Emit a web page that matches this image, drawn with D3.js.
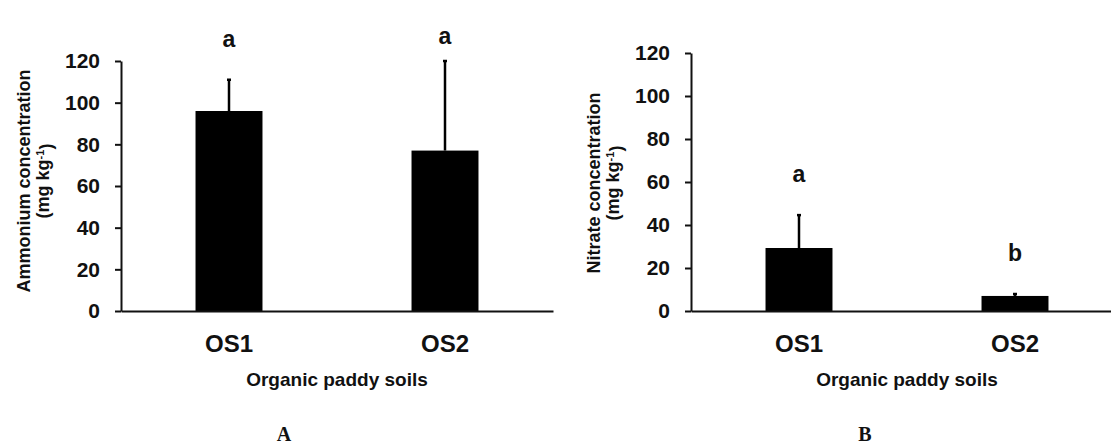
<!DOCTYPE html>
<html>
<head>
<meta charset="utf-8">
<script src="https://cdn.jsdelivr.net/npm/d3@7"></script>
<style>
  body { margin: 0; background: #fff; }
  svg { display: block; }
  text { font-family: "Liberation Sans", Arial, sans-serif; font-weight: bold; fill: #111; }
</style>
</head>
<body>
<svg id="drawspace" width="1111" height="445"></svg>
<script>
// data
const soils = ["OS1", "OS2"];
const ammonium = [96, 77];
const ammoniumErr = [15, 43];
const ammoniumLetters = ["a", "a"];
const nitrate = [29.3, 7];
const nitrateErr = [15.3, 0.9];
const nitrateLetters = ["a", "b"];
const yTicks = [0, 20, 40, 60, 80, 100, 120];

let drawSpace = d3.select("#drawspace");

// one panel = one bar chart with upward error bars
function drawPanel(p) {
  let g = drawSpace.append("g");

  let x = d3.scaleBand().domain(soils).range([p.left, p.left + 432])
    .paddingInner(0.69).paddingOuter(0.345);
  let y = d3.scaleLinear().domain([0, 120]).range([311, p.top]);

  // y axis
  let yAxis = g.append("g")
    .attr("transform", `translate(${p.left},0)`)
    .call(d3.axisLeft(y).tickValues(yTicks).tickSize(6).tickSizeOuter(0).tickPadding(15));
  yAxis.selectAll("path, line").attr("stroke", "#111").attr("stroke-width", 2);
  yAxis.selectAll("text").style("font-size", "21px").attr("fill", "#111");

  // bars
  g.selectAll(".bar")
    .data(p.values)
    .enter()
    .append("rect")
    .attr("class", "bar")
    .attr("x", (d, i) => x(soils[i]))
    .attr("width", x.bandwidth())
    .attr("y", (d) => y(d))
    .attr("height", (d) => y(0) - y(d))
    .attr("fill", "#000");

  // error bars (upper whisker only)
  let cx = (i) => x(soils[i]) + x.bandwidth() / 2;
  g.selectAll(".err")
    .data(p.values)
    .enter()
    .append("line")
    .attr("x1", (d, i) => cx(i))
    .attr("x2", (d, i) => cx(i))
    .attr("y1", (d) => y(d))
    .attr("y2", (d, i) => y(d + p.errs[i]))
    .attr("stroke", "#000")
    .attr("stroke-width", 2.5);
  g.selectAll(".cap")
    .data(p.values)
    .enter()
    .append("line")
    .attr("x1", (d, i) => cx(i) - 2)
    .attr("x2", (d, i) => cx(i) + 2)
    .attr("y1", (d, i) => y(d + p.errs[i]))
    .attr("y2", (d, i) => y(d + p.errs[i]))
    .attr("stroke", "#000")
    .attr("stroke-width", 2.5);

  // significance letters, kept below the top of the frame
  g.selectAll(".letter")
    .data(p.letters)
    .enter()
    .append("text")
    .attr("x", (d, i) => cx(i))
    .attr("y", (d, i) => Math.max(y(p.values[i] + p.errs[i]) - 33, 44))
    .attr("text-anchor", "middle")
    .style("font-size", "23px")
    .text((d) => d);

  // x axis
  let xAxis = g.append("g")
    .attr("transform", `translate(0,${y(0)})`)
    .call(d3.axisBottom(x).tickSize(0).tickPadding(24));
  xAxis.select("path").attr("stroke", "#111").attr("stroke-width", 2);
  xAxis.selectAll("text").style("font-size", "24px").attr("fill", "#111");

  // x title
  g.append("text")
    .attr("x", p.left + 216)
    .attr("y", 386)
    .attr("text-anchor", "middle")
    .style("font-size", "19px")
    .text("Organic paddy soils");

  // y title, two lines
  let yt = g.append("text")
    .attr("transform", "rotate(-90)")
    .attr("text-anchor", "middle")
    .style("font-size", "18px");
  yt.append("tspan").attr("x", -p.labelY).attr("y", p.labelX).attr("dy", "0.35em").text(p.title);
  yt.append("tspan").attr("x", -p.labelY).attr("y", p.labelX + 19).attr("dy", "0.35em")
    .text("(mg kg").append("tspan").attr("dy", "-0.45em").style("font-size", "11px").text("-1");
  yt.append("tspan").attr("dy", "0.45em").text(")");

  // panel letter
  drawSpace.append("text")
    .attr("x", p.tag[1])
    .attr("y", 441)
    .attr("text-anchor", "middle")
    .style("font-family", "'Liberation Serif', 'Times New Roman', serif")
    .style("font-size", "20px")
    .text(p.tag[0]);
}

drawPanel({
  left: 121, top: 61, values: ammonium, errs: ammoniumErr, letters: ammoniumLetters,
  title: "Ammonium concentration", labelX: 24, labelY: 181, tag: ["A", 284]
});
drawPanel({
  left: 691, top: 53, values: nitrate, errs: nitrateErr, letters: nitrateLetters,
  title: "Nitrate concentration", labelX: 594, labelY: 183, tag: ["B", 865]
});
</script>
</body>
</html>
